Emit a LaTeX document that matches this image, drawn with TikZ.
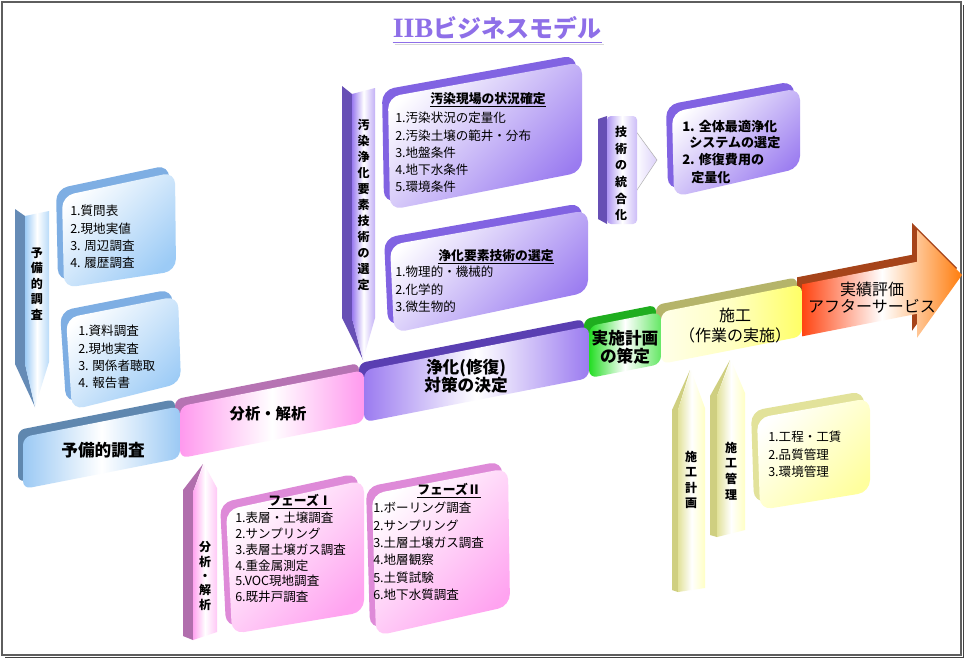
\documentclass[tikz,border=0pt]{standalone}
\usepackage{fontspec}
\setmainfont{Noto Sans CJK JP}
\newfontfamily\ttlserif{Liberation Serif}
\usetikzlibrary{calc}
\definecolor{frm}{HTML}{5E5E5E}
\definecolor{ttl}{HTML}{8E6FE8}
\definecolor{bA}{HTML}{7EAEE3}
\definecolor{bB}{HTML}{9CCBF6}
\definecolor{vA}{HTML}{8163E2}
\definecolor{vB}{HTML}{9A7BF0}
\definecolor{pA}{HTML}{DE8AD8}
\definecolor{pB}{HTML}{FFA3F0}
\definecolor{yA}{HTML}{E2E29A}
\definecolor{yB}{HTML}{FFFF9E}
\definecolor{ySide}{HTML}{CFCF80}
\definecolor{sBlue}{HTML}{5F87AF}
\definecolor{sPink}{HTML}{B673B3}
\definecolor{sViol}{HTML}{5A3FB2}
\definecolor{sGreen}{HTML}{1FAE1F}
\definecolor{sYell}{HTML}{B5B46A}
\definecolor{sRed}{HTML}{A6441A}
\definecolor{fBlue}{HTML}{9BC9F4}
\definecolor{fPink}{HTML}{FF99EE}
\definecolor{fViol}{HTML}{9B7BF0}
\definecolor{fGreen}{HTML}{22DD22}
\definecolor{fYell}{HTML}{FFFF66}
\definecolor{fRed}{HTML}{FF4411}
\newcommand\tdbox[6]{%
  \fill[#5, rounded corners=9pt, shift={(-6,-7)}] #1 -- #2 -- #3 -- #4 -- cycle;
  \shade[rounded corners=9pt, top color=white, bottom color=#6, shading angle=45] #1 -- #2 -- #3 -- #4 -- cycle;}
\tikzset{
  lst/.style={anchor=west, inner sep=0pt, font=\fontsize{9.4}{10}\selectfont},
  lstb/.style={anchor=west, inner sep=0pt, font=\bfseries\fontsize{9.8}{10}\selectfont},
  hdr/.style={inner sep=0pt, font=\bfseries\fontsize{9.6}{10}\selectfont},
  vtxt/.style={inner sep=0pt, align=center},
  blab/.style={inner sep=0pt, align=center, font=\bfseries\fontsize{12.5}{13.5}\selectfont},
}
\begin{document}
\begin{tikzpicture}[x=0.75pt,y=-0.75pt]
\useasboundingbox (0,0) rectangle (966,660);
\fill[white] (0,0) rectangle (966,660);
\draw[frm, line width=2pt] (2,2) rectangle (961,655);
\draw[frm!70!black, line width=1.2pt] (963.5,5) -- (963.5,657.5) -- (5,657.5);

% title
\node[inner sep=0pt, text=ttl, font=\bfseries\fontsize{18}{20}\selectfont] (title) at (497,28) {{\ttlserif\fontsize{21}{22}\selectfont IIB}ビジネスモデル};
\draw[gray!30, line width=1.4pt] ($(title.base west)+(2,7)$) -- ($(title.base east)+(2,7)$);
\draw[ttl, line width=1.4pt] ($(title.base west)+(0,5)$) -- ($(title.base east)+(0,5)$);

% ---------- pens ----------
% blue pen
\fill[bA!80!black] (15,209) -- (25,216) -- (25,364) -- (35,407) -- (15,364) -- cycle;
\shade[left color=bB, right color=bB!70, middle color=white] (25,216) -- (49,211) -- (49,362) -- (35,407) -- (25,364) -- cycle;
\node[vtxt, font=\bfseries\fontsize{9}{11.6}\selectfont] (pen1) at (37,284) {予\\備\\的\\調\\査};
% violet pen
\fill[vA!80!black] (342,86) -- (352,94) -- (352,318) -- (363,360) -- (342,318) -- cycle;
\shade[left color=vB, right color=vB!60, middle color=white] (352,94) -- (375,88) -- (375,318) -- (363,360) -- (352,318) -- cycle;
\node[vtxt, font=\bfseries\fontsize{9}{12}\selectfont] (pen2) at (363.5,205) {汚\\染\\浄\\化\\要\\素\\技\\術\\の\\選\\定};
% pink pen
\fill[pA!80!black] (183,490) -- (203,464) -- (193,492) -- (193,640) -- (183,636) -- cycle;
\shade[left color=pB, right color=pB!60, middle color=white] (193,492) -- (204,464) -- (217,488) -- (217,632) -- (193,640) -- cycle;
\node[vtxt, font=\bfseries\fontsize{9}{10.7}\selectfont] (pen3) at (205,576) {分\\析\\・\\解\\析};
% yellow pens
\fill[ySide] (672,410) -- (690,370) -- (678,410) -- (678,592) -- (672,590) -- cycle;
\shade[left color=yA, right color=yB!60, middle color=white] (678,410) -- (691,370) -- (705,408) -- (705,588) -- (678,592) -- cycle;
\node[vtxt, font=\bfseries\fontsize{9}{11.5}\selectfont] (pen4) at (691,480) {施\\工\\計\\画};
\fill[ySide] (710,396) -- (730,360) -- (717,396) -- (717,537) -- (710,535) -- cycle;
\shade[left color=yA, right color=yB!60, middle color=white] (717,396) -- (731,360) -- (745,393) -- (745,530) -- (717,537) -- cycle;
\node[vtxt, font=\bfseries\fontsize{9}{11.8}\selectfont] (pen5) at (731,471) {施\\工\\管\\理};
% tech integration pen
\shade[left color=white, right color=vB!35, draw=gray!60, line width=0.4pt] (635,130) -- (657,160) -- (635,193) -- cycle;
\fill[vA!80!black] (598,119) -- (607,116) -- (607,224) -- (598,219) -- cycle;
\shade[rounded corners=3pt, left color=vB!80, right color=vB!50, middle color=white] (607,116) rectangle (637,224);
\node[vtxt, font=\bfseries\fontsize{9}{12.5}\selectfont] (pen6) at (621,173.5) {技\\術\\の\\統\\合\\化};

% ---------- boxes ----------
\tdbox{(62,196)}{(175,172)}{(176,271)}{(64,288)}{bA}{bB}
\tdbox{(66,318)}{(178,296)}{(181,383)}{(72,410)}{bA}{bB}
\tdbox{(388,97)}{(582,62)}{(582,172)}{(390,210)}{vA}{vB}
\tdbox{(390,245)}{(588,210)}{(588,292)}{(394,333)}{vA}{vB}
\tdbox{(672,112)}{(800,88)}{(800,168)}{(674,197)}{vA}{vB}
\tdbox{(226,510)}{(364,480)}{(364,612)}{(232,634)}{pA}{pB}
\tdbox{(372,494)}{(508,468)}{(510,606)}{(376,636)}{pA}{pB}
\tdbox{(757,418)}{(870,398)}{(870,492)}{(760,510)}{yA}{yB}

\foreach \t [count=\i] in {1.質問表,2.現地実値,3. 周辺調査,4. 履歴調査}
  \node[lst] (a\i) at (70,193.6+17.4*\i) {\t};
\foreach \t [count=\i] in {1.資料調査,2.現地実査,3. 関係者聴取,4. 報告書}
  \node[lst] (b\i) at (78,313.6+17.4*\i) {\t};
\node[hdr] (chd) at (488,100) {\underline{汚染現場の状況確定}};
\foreach \t [count=\i] in {1.汚染状況の定量化,2.汚染土壌の範井・分布,3.地盤条件,4.地下水条件,5.環境条件}
  \node[lst] (c\i) at (395,100.7+17.3*\i) {\t};
\node[hdr] (dhd) at (496,257) {\underline{浄化要素技術の選定}};
\foreach \t [count=\i] in {1.物理的・機械的,2.化学的,3.微生物的}
  \node[lst] (d\i) at (395,254.5+17.5*\i) {\t};
\node[lstb] (e1) at (682,127) {1. 全体最適浄化};
\node[lstb] (e2) at (689,143) {システムの選定};
\node[lstb] (e3) at (682,160) {2. 修復費用の};
\node[lstb] (e4) at (691,178) {定量化};
\node[hdr] (fhd) at (300,502) {\underline{フェーズⅠ}};
\foreach \t [count=\i] in {1.表層・土壌調査,2.サンプリング,3.表層土壌ガス調査,4.重金属測定,5.VOC現地調査,6.既井戸調査}
  \node[lst] (f\i) at (235,502.2+15.8*\i) {\t};
\node[hdr] (ghd) at (449,491) {\underline{フェーズⅡ}};
\foreach \t [count=\i] in {1.ボーリング調査,2.サンプリング,3.土層土壌ガス調査,4.地層観察,5.土質試験,6.地下水質調査}
  \node[lst] (g\i) at (373,490.6+17.4*\i) {\t};
\foreach \t [count=\i] in {1.工程・工賃,2.品質管理,3.環境管理}
  \node[lst] (h\i) at (768,419.5+17.5*\i) {\t};

% ---------- main band ----------
\begin{scope}[shift={(18,430)}, yslant=0.196]
  \fill[sBlue, rounded corners=5pt] (0,0) rectangle (157,52);
  \fill[sPink, rounded corners=5pt] (157,0) rectangle (341,20);
  \fill[sViol, rounded corners=5pt] (341,0) rectangle (566,20);
  \fill[sGreen, rounded corners=5pt] (566,0) rectangle (638,20);
  \fill[sYell, rounded corners=5pt] (638,0) rectangle (779,20);
  \fill[sRed, shift={(-5,-8)}] (784,8) -- (899,8) -- (899,-24) -- (944,30) -- (899,84) -- (899,60) -- (784,60) -- cycle;
  \foreach \n/\a/\b in {B/5/162, P/162/346, V/346/571, G/571/643, Y/643/784} {
    \coordinate (\n1) at (\a,8); \coordinate (\n2) at (\b,8);
    \coordinate (\n3) at (\b,60); \coordinate (\n4) at (\a,60);}
  \coordinate (R1) at (784,8);  \coordinate (R2) at (899,8);
  \coordinate (R3) at (899,-24); \coordinate (R4) at (944,30);
  \coordinate (R5) at (899,84); \coordinate (R6) at (899,60);
  \coordinate (R7) at (784,60);
\end{scope}
\shade[rounded corners=6pt, left color=fBlue, right color=fBlue, middle color=white] (B1) -- (B2) -- (B3) -- (B4) -- cycle;
\shade[rounded corners=6pt, left color=fPink, right color=fPink, middle color=white] (P1) -- (P2) -- (P3) -- (P4) -- cycle;
\shade[rounded corners=6pt, left color=fViol, right color=fViol, middle color=white] (V1) -- (V2) -- (V3) -- (V4) -- cycle;
\shade[rounded corners=6pt, left color=fGreen, right color=fGreen!70, middle color=white] (G1) -- (G2) -- (G3) -- (G4) -- cycle;
\shade[rounded corners=6pt, left color=fYell!15, right color=fYell, middle color=fYell!40] (Y1) -- (Y2) -- (Y3) -- (Y4) -- cycle;
\shade[left color=fRed, right color=fRed!70!yellow, middle color=white] (R1) -- (R2) -- (R3) -- (R4) -- (R5) -- (R6) -- (R7) -- cycle;

\node[blab] (s1) at (103,450) {予備的調査};
\node[blab, font=\bfseries\fontsize{11.5}{12}\selectfont] (s2) at (268,414) {分析・解析};
\node[blab] (s3) at (466,376) {浄化(修復)\\対策の決定};
\node[blab] (s4) at (625,347) {実施計画\\の策定};
\node[blab, font=\fontsize{12}{15}\selectfont] (s5) at (735,326) {施工\\（作業の実施）};
\node[blab, font=\fontsize{12}{12.8}\selectfont] (s6) at (872,298) {実績評価\\アフターサービス};
\end{tikzpicture}
\end{document}
